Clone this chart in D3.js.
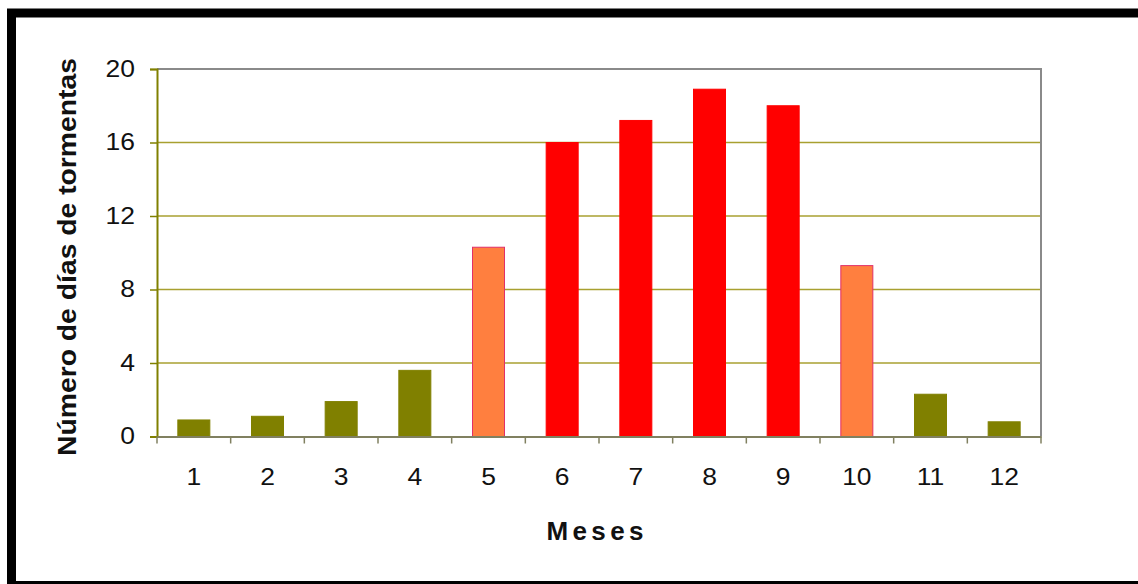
<!DOCTYPE html>
<html>
<head>
<meta charset="utf-8">
<script src="https://cdn.jsdelivr.net/npm/d3@7"></script>
<style>
  html, body { margin: 0; padding: 0; background: #fff; }
  svg { display: block; }
  text { font-family: "Liberation Sans", Arial, sans-serif; fill: #111; }
</style>
</head>
<body>
<svg id="chart" width="1138" height="584"></svg>
<script>
// Monthly thunderstorm days
const months = ["1", "2", "3", "4", "5", "6", "7", "8", "9", "10", "11", "12"];
const stormDays = [0.9, 1.1, 1.9, 3.6, 10.3, 16.0, 17.2, 18.9, 18.0, 9.3, 2.3, 0.8];
const barGroup = ["low", "low", "low", "low", "mid", "high", "high", "high", "high", "mid", "low", "low"];
const yTicks = [0, 4, 8, 12, 16, 20];

const fillByGroup = { low: "#808000", mid: "#FF7F3F", high: "#FF0000" };
const edgeByGroup = { low: "#808000", mid: "#E0306A", high: "#FF0000" };

const svg = d3.select("#chart");
const plot = { left: 157, right: 1041, top: 69, bottom: 436.5 };

// outer frame
svg.append("rect")
  .attr("x", 11.5).attr("y", 13)
  .attr("width", 1300).attr("height", 572.5)
  .attr("fill", "none").attr("stroke", "#000").attr("stroke-width", 9);

const x = d3.scaleBand().domain(months).range([plot.left, plot.right]).paddingInner(0).paddingOuter(0);
const y = d3.scaleLinear().domain([0, 20]).range([plot.bottom, plot.top]);

// horizontal gridlines
svg.append("g").selectAll("line")
  .data(yTicks.filter(t => t > 0 && t < 20))
  .join("line")
  .attr("x1", plot.left).attr("x2", plot.right)
  .attr("y1", d => y(d)).attr("y2", d => y(d))
  .attr("stroke", "#A8A030").attr("stroke-width", 1.5);

// plot frame: top and right in grey
svg.append("path")
  .attr("d", `M${plot.left},${y(20)}H${plot.right}V${plot.bottom}`)
  .attr("fill", "none").attr("stroke", "#8a8a8a").attr("stroke-width", 2);

// bars
const bw = 32;
svg.append("g").selectAll("rect")
  .data(stormDays)
  .join("rect")
  .attr("x", (d, i) => x(months[i]) + x.bandwidth() / 2 - bw / 2)
  .attr("y", d => y(d))
  .attr("width", bw)
  .attr("height", d => y(0) - y(d))
  .attr("fill", (d, i) => fillByGroup[barGroup[i]])
  .attr("stroke", (d, i) => edgeByGroup[barGroup[i]])
  .attr("stroke-width", 1);

// widen digits a little, the way the labels are set
function widen(sel, k) {
  sel.each(function () {
    const len = this.getComputedTextLength();
    d3.select(this).attr("textLength", len * k).attr("lengthAdjust", "spacingAndGlyphs");
  });
}

// y axis
const yAxis = d3.axisLeft(y).tickValues(yTicks).tickSize(7).tickPadding(15);
const gy = svg.append("g").attr("transform", `translate(${plot.left},0)`).call(yAxis);
gy.select(".domain").attr("stroke", "#808000").attr("stroke-width", 2);
gy.selectAll(".tick line").attr("stroke", "#808000").attr("stroke-width", 1.5);
gy.selectAll(".tick text")
  .attr("font-size", 23).attr("fill", "#111")
  .attr("font-family", "Liberation Sans, Arial, sans-serif")
  .call(widen, 1.15);

// x axis: category labels with ticks on band boundaries
const xAxis = d3.axisBottom(x).tickSize(0).tickPadding(32);
const gx = svg.append("g").attr("transform", `translate(0,${plot.bottom})`).call(xAxis);
gx.select(".domain").attr("stroke", "#808060").attr("stroke-width", 2);
gx.selectAll(".tick text")
  .attr("font-size", 23).attr("fill", "#111")
  .attr("font-family", "Liberation Sans, Arial, sans-serif")
  .call(widen, 1.15);

svg.append("g").selectAll("line")
  .data(months.map(m => x(m)).concat([plot.right]))
  .join("line")
  .attr("x1", d => d).attr("x2", d => d)
  .attr("y1", plot.bottom).attr("y2", plot.bottom + 7)
  .attr("stroke", "#808060").attr("stroke-width", 1.5);

// axis titles
svg.append("text")
  .attr("transform", `translate(76,257) rotate(-90)`)
  .attr("text-anchor", "middle")
  .attr("font-size", 25).attr("font-weight", "bold")
  .attr("textLength", 398).attr("lengthAdjust", "spacingAndGlyphs")
  .text("Número de días de tormentas");

svg.append("text")
  .attr("x", 595).attr("y", 540)
  .attr("text-anchor", "middle")
  .attr("font-size", 26).attr("font-weight", "bold")
  .attr("textLength", 97).attr("lengthAdjust", "spacing")
  .text("Meses");
</script>
</body>
</html>
